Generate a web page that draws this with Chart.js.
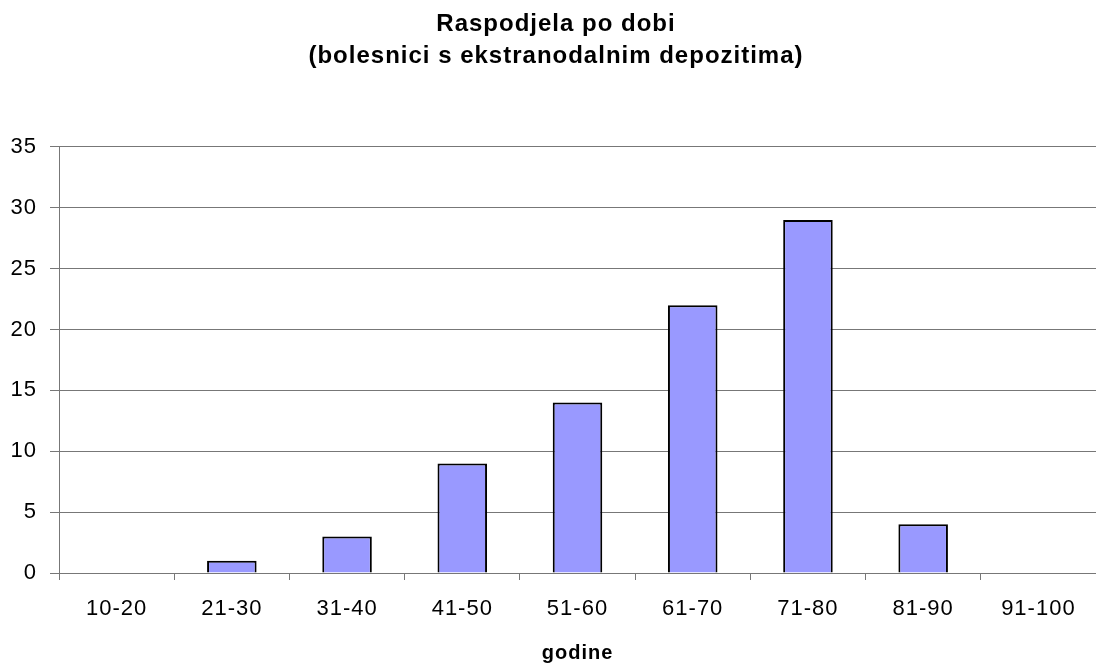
<!DOCTYPE html>
<html>
<head>
<meta charset="utf-8">
<script src="https://cdn.jsdelivr.net/npm/chart.js@4/dist/chart.umd.min.js"></script>
<style>
  html, body { margin: 0; padding: 0; background: #fff; }
  #wrap { width: 1096px; height: 668px; }
</style>
</head>
<body>
<div id="wrap"><canvas id="chart" width="1096" height="668"></canvas></div>
<script>
const categories = ['10-20', '21-30', '31-40', '41-50', '51-60', '61-70', '71-80', '81-90', '91-100'];
const counts = [0, 1, 3, 9, 14, 22, 29, 4, 0];
const titleLines = ['Raspodjela po dobi', '(bolesnici s ekstranodalnim depozitima)'];
const xTitle = 'godine';

const fontFamily = '"Liberation Sans", Arial, sans-serif';
const gridColor = '#777';

// the original text is a little spaced out, and the title sits right of centre
const lookTweaks = {
  id: 'lookTweaks',
  beforeUpdate(chart) { chart.ctx.letterSpacing = '1px'; },
  afterLayout(chart) {
    if (chart.titleBlock) chart.titleBlock.left = 16;
  },
  beforeDraw(chart) { chart.ctx.letterSpacing = '1px'; }
};

new Chart(document.getElementById('chart'), {
  type: 'bar',
  data: {
    labels: categories,
    datasets: [{
      data: counts,
      backgroundColor: '#9999FF',
      borderColor: '#000',
      borderWidth: 2,
      categoryPercentage: 1,
      barPercentage: 0.43
    }]
  },
  options: {
    responsive: false,
    animation: false,
    layout: { padding: 0 },
    plugins: {
      legend: { display: false },
      tooltip: { enabled: false },
      title: {
        display: true,
        text: titleLines,
        color: '#000',
        font: { family: fontFamily, size: 24, weight: 'bold', lineHeight: 1.333 },
        padding: { top: 8, bottom: 75 }
      }
    },
    scales: {
      x: {
        grid: { drawOnChartArea: false, drawTicks: true, tickLength: 7, color: gridColor },
        border: { display: true, color: gridColor },
        ticks: { color: '#000', font: { family: fontFamily, size: 22 }, padding: 16, maxRotation: 0 },
        title: {
          display: true,
          text: xTitle,
          color: '#000',
          font: { family: fontFamily, size: 20, weight: 'bold' },
          padding: { top: 0, bottom: 3 }
        },
        afterFit(scale) { scale.height = 95; }
      },
      y: {
        min: 0,
        max: 35,
        ticks: { stepSize: 5, color: '#000', font: { family: fontFamily, size: 22 }, padding: 13 },
        grid: { color: gridColor, tickLength: 9 },
        border: { display: true, color: gridColor },
        afterFit(scale) { scale.width = 59; }
      }
    }
  },
  plugins: [lookTweaks]
});
</script>
</body>
</html>
